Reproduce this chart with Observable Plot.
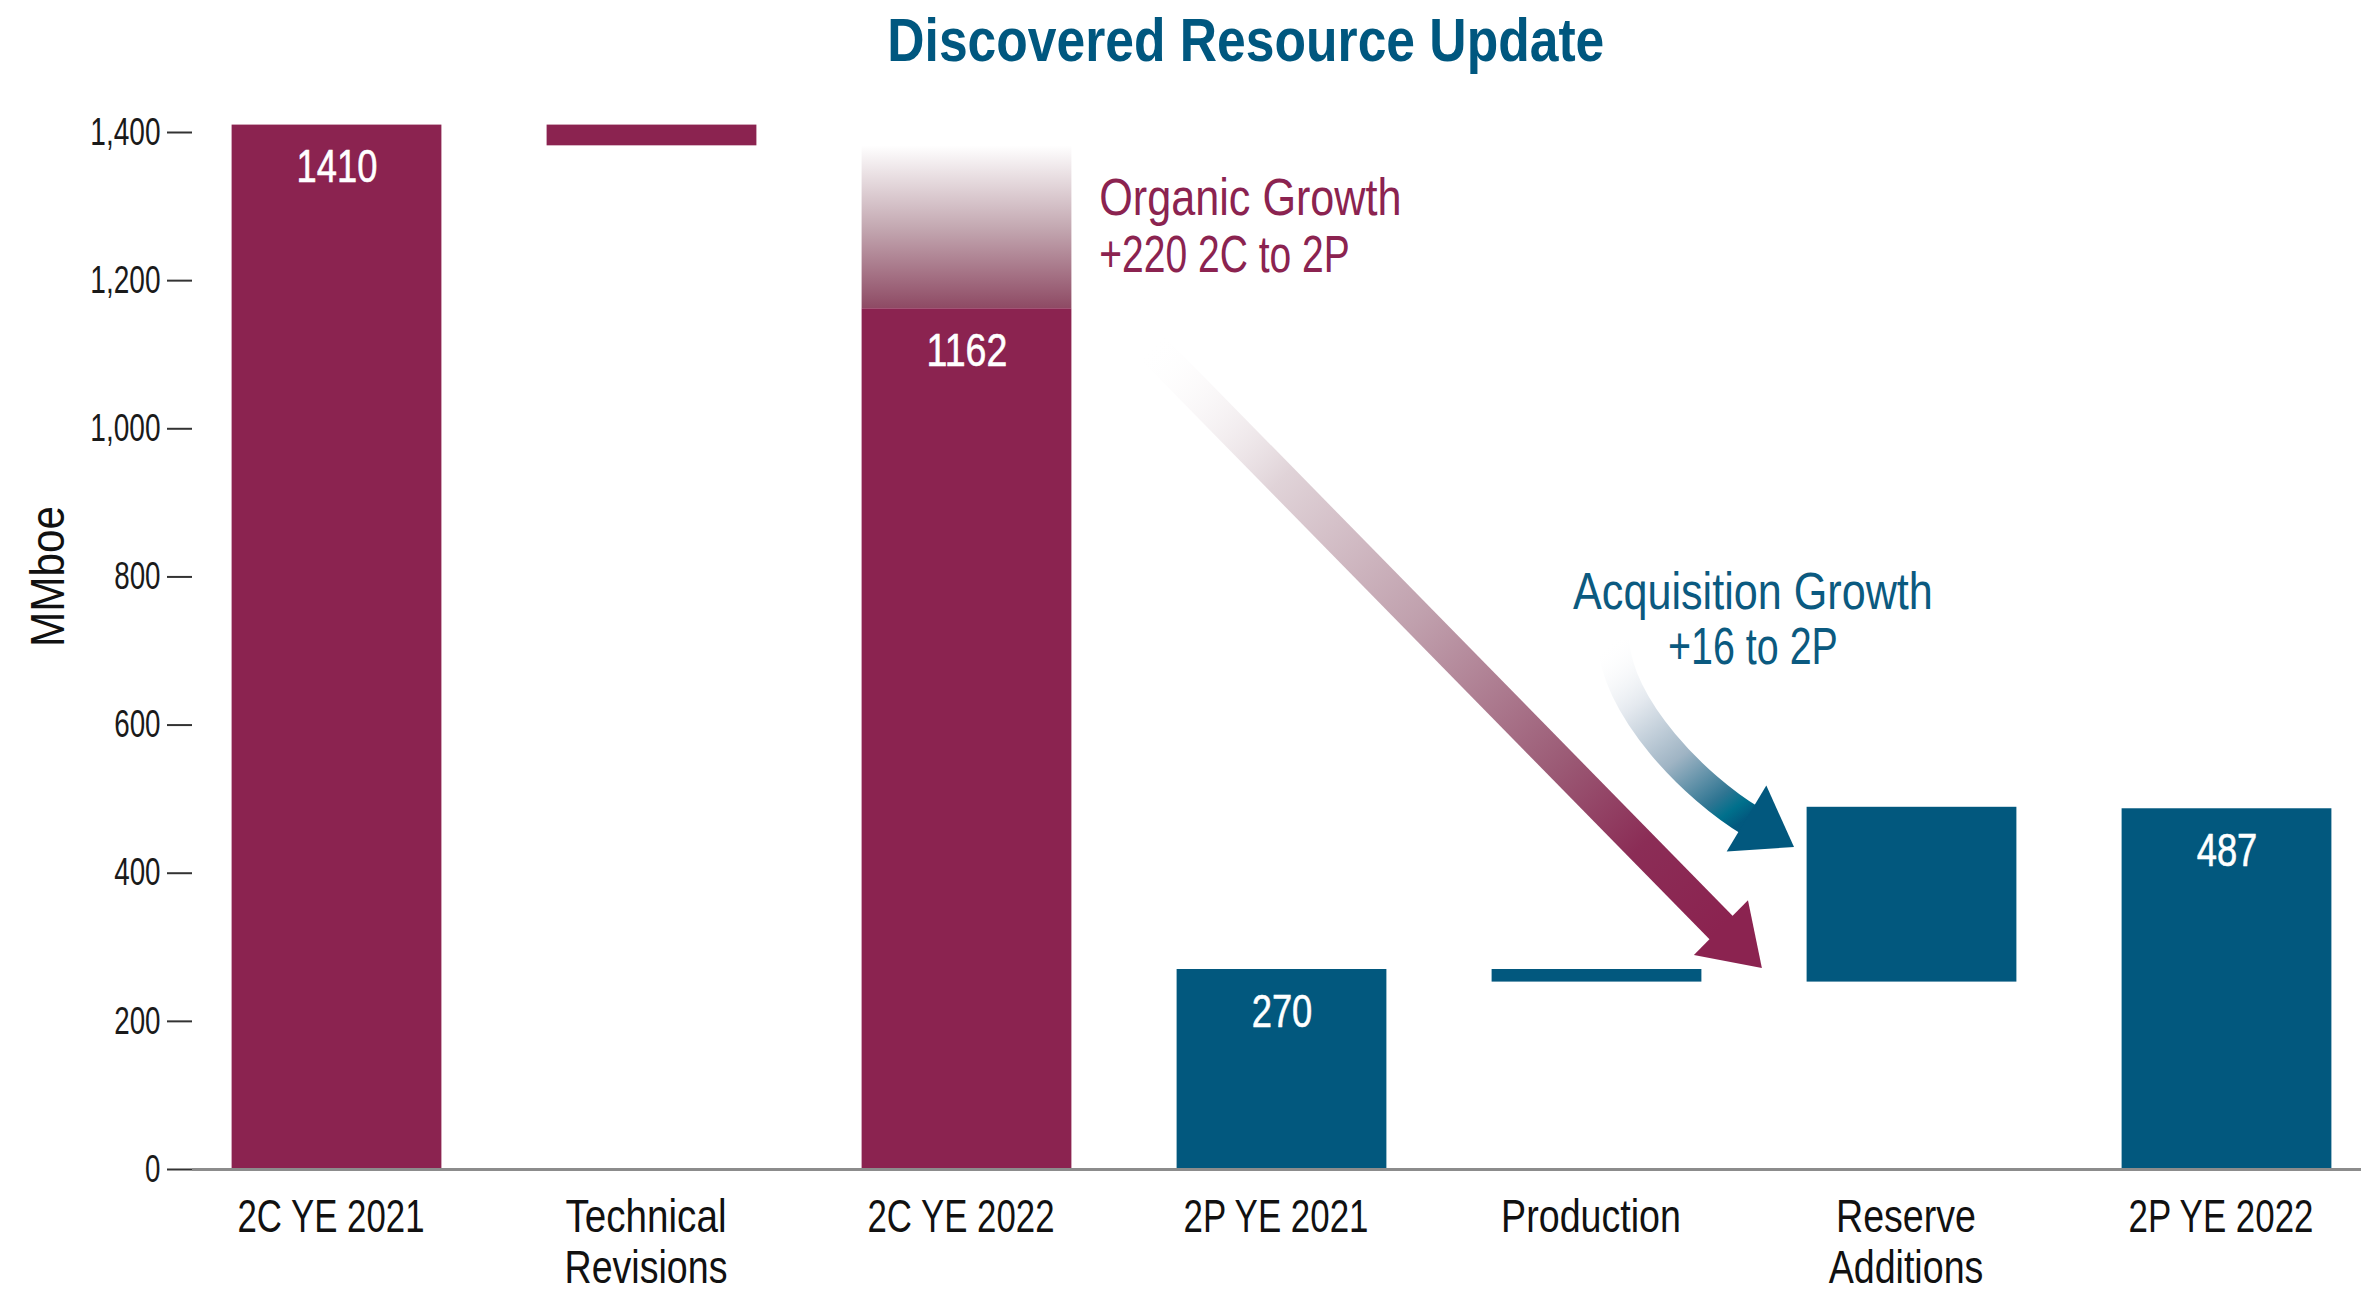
<!DOCTYPE html>
<html>
<head>
<meta charset="utf-8">
<script src="https://cdn.jsdelivr.net/npm/d3@7"></script>
<script src="https://cdn.jsdelivr.net/npm/@observablehq/plot@0.6"></script>
<style>
html, body { margin: 0; padding: 0; background: #fff; }
#title { position: relative; width: 2361px; height: 80px; font-family: "Liberation Sans", Arial, sans-serif; font-weight: bold; font-size: 61px; line-height: 80px; color: #00577f; white-space: nowrap; }
#title span { position: absolute; top: 0; display: inline-block; transform-origin: center center; }
#chart svg { display: block; }
</style>
</head>
<body>
<div id="title"><span>Discovered Resource Update</span></div>
<div id="chart"></div>
<script>
// ---------------- data ----------------
const categories = ["2C YE 2021", "Technical\nRevisions", "2C YE 2022", "2P YE 2021", "Production", "Reserve\nAdditions", "2P YE 2022"];
const barStart = [0, 1382, 0, 0, 253, 253, 0];
const barEnd = [1410, 1410, 1162, 270, 270, 489, 487];
const barGroup = ["2C", "2C", "2C", "2P", "2P", "2P", "2P"];
const valueLabels = ["1410", "", "1162", "270", "", "", "487"];
const yTicks = [0, 200, 400, 600, 800, 1000, 1200, 1400];
const organicNote = ["Organic Growth", "+220 2C to 2P"];
const acquisitionNote = ["Acquisition Growth", "+16 to 2P"];

// ---------------- styles & layout ----------------
const FONT = '"Liberation Sans", Arial, sans-serif';
const MAROON = "#8b2350";
const TEAL = "#02587e";
const BAR_HALF = 0.333;

// annotation placement (in data units: x = category index, y = MMboe)
const noteLayout = {
  organic: {x: 2.42, y: [1288, 1212]},
  acquisition: {x: 4.495, y: [757, 682]}
};
const organicArrow = {
  path: [[2.5825, 1112], [4.395, 326]],
  tip: [4.525, 271.4],
  shaftWidth: 33, headHalf: 38.5, headColor: MAROON,
  stops: [[0, "#ffffff", 0], [0.23, "#e0d3d8", 1], [0.47, "#c0a0ad", 1], [0.72, "#9b5a75", 1], [0.86, "#8b2d56", 1], [1, MAROON, 1]]
};
const acquisitionArrow = {
  path: [[4.0524, 714], [4.0683, 620], [4.3127, 515], [4.4762, 473.2]],
  tip: [4.627, 434.7],
  shaftWidth: 32, headHalf: 38.5, headColor: TEAL,
  stops: [[0, "#ffffff", 0], [0.3, "#e3e8ee", 1], [0.6, "#9fb4c4", 1], [0.85, "#2f7592", 1], [0.93, "#00708c", 1], [1, TEAL, 1]]
};
const ghostStops = [[0, "#8e4a64", 1], [0.5, "#c4a9b2", 1], [1, "#ffffff", 1]];

// ---------------- tables ----------------
const rows = categories.map((c, i) => ({
  i, start: barStart[i], end: barEnd[i], group: barGroup[i], value: valueLabels[i],
  l1: c.split("\n")[0], l2: c.split("\n")[1] || ""
}));
const ghost = [{i: 2, from: barEnd[2], to: barStart[1]}];
const organicRows = organicNote.map((t, k) => ({t, x: noteLayout.organic.x, y: noteLayout.organic.y[k]}));
const acqRows = acquisitionNote.map((t, k) => ({t, x: noteLayout.acquisition.x, y: noteLayout.acquisition.y[k]}));

const defsMark = () => {
  const g = d3.create("svg:g");
  const lg = g.append("defs").append("linearGradient").attr("id", "ghostGrad")
    .attr("x1", 0).attr("y1", 1).attr("x2", 0).attr("y2", 0);
  ghostStops.forEach(([o, c, a]) => lg.append("stop").attr("offset", o).attr("stop-color", c).attr("stop-opacity", a));
  return g.node();
};

function arrowMark(id, spec) {
  return (index, scales) => {
    const sx = scales.x, sy = scales.y;
    const P = spec.path.map(([a, b]) => [sx(a), sy(b)]);
    const tip = [sx(spec.tip[0]), sy(spec.tip[1])];
    const base = P[P.length - 1];
    const L = Math.hypot(tip[0] - base[0], tip[1] - base[1]);
    const u = [(tip[0] - base[0]) / L, (tip[1] - base[1]) / L];
    const n = [-u[1], u[0]];
    const hw = spec.headHalf;
    const g = d3.create("svg:g");
    const lg = g.append("defs").append("linearGradient").attr("id", id).attr("gradientUnits", "userSpaceOnUse")
      .attr("x1", P[0][0]).attr("y1", P[0][1]).attr("x2", base[0]).attr("y2", base[1]);
    spec.stops.forEach(([o, c, a]) => lg.append("stop").attr("offset", o).attr("stop-color", c).attr("stop-opacity", a));
    const ext = [base[0] + u[0] * 6, base[1] + u[1] * 6];
    const d = P.length === 2 ? `M${P[0]}L${ext}` : `M${P[0]}C${P[1]} ${P[2]} ${ext}`;
    g.append("path").attr("d", d).attr("fill", "none").attr("stroke", `url(#${id})`).attr("stroke-width", spec.shaftWidth);
    g.append("path")
      .attr("d", `M${base[0] + n[0] * hw},${base[1] + n[1] * hw}L${tip}L${base[0] - n[0] * hw},${base[1] - n[1] * hw}Z`)
      .attr("fill", spec.headColor);
    return g.node();
  };
}

const plot = Plot.plot({
  width: 2361,
  height: 1209,
  marginLeft: 192,
  marginRight: 0,
  marginTop: 52,
  marginBottom: 120,
  style: {fontFamily: FONT, fontSize: "38px", color: "#1a1a1a", background: "#fff", overflow: "visible"},
  x: {domain: [0, 6], range: [336.5, 2226.5], axis: null},
  y: {domain: [0, 1400], range: [1089, 52], ticks: yTicks, tickFormat: d3.format(","), tickSize: 25, tickPadding: 7, label: null},
  color: {domain: ["2C", "2P"], range: [MAROON, TEAL]},
  marks: [
    defsMark,
    Plot.rectY(ghost, {x1: d => d.i - BAR_HALF, x2: d => d.i + BAR_HALF, y1: "from", y2: "to", fill: "url(#ghostGrad)"}),
    Plot.rectY(rows, {x1: d => d.i - BAR_HALF, x2: d => d.i + BAR_HALF, y1: "start", y2: "end", fill: "group"}),
    Plot.ruleY([0], {stroke: "#8c8c8c", strokeWidth: 3}),
    Plot.text(rows.filter(d => d.value), {x: "i", y: "end", text: "value", fill: "white", fontSize: 46, lineAnchor: "bottom", dy: 57, stroke: "white", strokeWidth: 0.6}),
    Plot.text(rows, {x: "i", y: 0, text: "l1", fill: "#111", fontSize: 47, lineAnchor: "top", dy: 29, dx: -6}),
    Plot.text(rows.filter(d => d.l2), {x: "i", y: 0, text: "l2", fill: "#111", fontSize: 47, lineAnchor: "top", dy: 80, dx: -6}),
    arrowMark("organicGrad", organicArrow),
    arrowMark("acqGrad", acquisitionArrow),
    Plot.text(organicRows, {x: "x", y: "y", text: "t", fill: MAROON, fontSize: 52, textAnchor: "start", lineAnchor: "bottom"}),
    Plot.text(acqRows, {x: "x", y: "y", text: "t", fill: "#0b5a80", fontSize: 52, textAnchor: "middle", lineAnchor: "bottom"}),
    Plot.text(["MMboe"], {text: d => d, frameAnchor: "left", textAnchor: "middle", dx: -129, dy: -74.5, rotate: -90, fontSize: 48, lineAnchor: "bottom", fill: "#111"})
  ]
});

document.getElementById("chart").appendChild(plot);

// y-axis tick lines a little heavier
plot.querySelectorAll('[aria-label="y-axis tick"] path, [aria-label="y-axis"] line, g.tick line').forEach(el => {
  el.setAttribute("stroke-width", 2);
  el.setAttribute("stroke", "#333");
});

// condensed look: compress glyphs horizontally (letters and digits compress differently)
const ctx = document.createElement("canvas").getContext("2d");
const squeeze = {"38px": [0.8, 0.73], "47px": [0.8, 0.68], "46px": [0.8, 0.79], "52px": [0.83, 0.645], "48px": [0.88, 0.7]};
plot.querySelectorAll("text").forEach(el => {
  const fs = getComputedStyle(el).fontSize;
  const k = squeeze[fs];
  if (!k) return;
  ctx.font = `${fs} ${FONT}`;
  let target = 0;
  for (const ch of el.textContent) target += ctx.measureText(ch).width * (/[0-9]/.test(ch) ? k[1] : k[0]);
  if (target > 0) {
    el.setAttribute("textLength", target.toFixed(1));
    el.setAttribute("lengthAdjust", "spacingAndGlyphs");
  }
});

// title: condensed to match
const ts = document.querySelector("#title span");
const tw = ts.getBoundingClientRect().width;
ts.style.left = (1246 - tw / 2) + "px";
ts.style.transform = `scaleX(${717 / tw})`;
</script>
</body>
</html>
